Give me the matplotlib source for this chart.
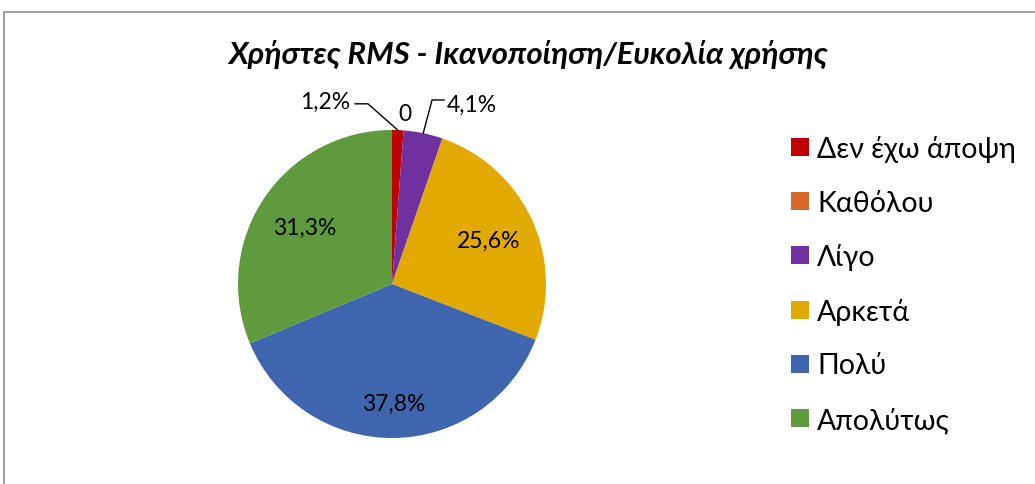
import numpy as np
import matplotlib
matplotlib.use("Agg")
import matplotlib.pyplot as plt
from matplotlib.patches import Rectangle

plt.rcParams["font.family"] = ["Lato", "DejaVu Sans"]

TITLE = "Χρήστες RMS - Ικανοποίηση/Ευκολία χρήσης"
categories = ["Δεν έχω άποψη", "Καθόλου", "Λίγο", "Αρκετά", "Πολύ", "Απολύτως"]
shares = [1.2, 0.0, 4.1, 25.6, 37.8, 31.3]
colors = ["#C00000", "#D9692A", "#7030A0", "#E2AA00", "#3F65AE", "#609A3F"]
# radial distance of the in-slice labels (fraction of radius)
label_r = [0, 0, 0, 0.69, 0.77, 0.68]

W, H = 1035, 484
fig = plt.figure(figsize=(W / 100, H / 100), dpi=100)

# outer chart frame (runs off the right and bottom edges)
fig.patches.append(Rectangle((4 / W, -0.1), 1.2, (H - 12) / H + 0.1, transform=fig.transFigure,
                             fill=False, edgecolor="#8C8C8C", linewidth=1.2))

# pie centre at (392, 284) px, radius 154 px
cx, cy, r = 392, H - 284, 154
lim = 1.25
side = 2 * r * lim
ax = fig.add_axes([(cx - side / 2) / W, (cy - side / 2) / H, side / W, side / H])
wedges, _ = ax.pie(shares, colors=colors, startangle=90, counterclock=False,
                   wedgeprops=dict(linewidth=0))
ax.set_xlim(-lim, lim)
ax.set_ylim(-lim, lim)
ax.set_aspect("equal")
ax.axis("off")


def fmt(v):
    if v == 0:
        return "0"
    return f"{v:.1f}".replace(".", ",") + "%"


def mid_angle(w):
    return np.deg2rad((w.theta1 + w.theta2) / 2)


FS = 16.5
for i, (w, v) in enumerate(zip(wedges, shares)):
    a = mid_angle(w)
    if v >= 10:
        rr = label_r[i]
        ax.text(rr * np.cos(a), rr * np.sin(a), fmt(v), ha="center", va="center_baseline",
                fontsize=FS, color="black")
    elif v == 0:
        ax.text(1.12 * np.cos(a), 1.12 * np.sin(a), fmt(v), ha="center", va="center_baseline",
                fontsize=FS)
    else:
        ex, ey = np.cos(a), np.sin(a)
        if ex < 0.1:
            # label to the upper left
            ax.plot([-0.24, -0.156, ex], [1.17, 1.17, ey], color="black", lw=1)
            ax.text(-0.27, 1.19, fmt(v), ha="right", va="center_baseline", fontsize=FS)
        else:
            ax.plot([0.338, 0.26, ex], [1.195, 1.195, ey], color="black", lw=1)
            ax.text(0.355, 1.175, fmt(v), ha="left", va="center_baseline", fontsize=FS)

fig.text(528 / W, 1 - 52 / H, TITLE, ha="center", va="center_baseline", fontsize=22.5,
         fontweight="bold", fontstyle="italic")

# legend, drawn as boxes plus text in pixel positions
y0, step = 147, 54.2
for i, (lab, c) in enumerate(zip(categories, colors)):
    y = H - (y0 + i * step)
    fig.patches.append(Rectangle((791 / W, (y - 9) / H), 18 / W, 18 / H,
                                 transform=fig.transFigure, facecolor=c, edgecolor="none"))
    fig.text(817 / W, y / H, lab, ha="left", va="center_baseline", fontsize=20.5)

fig.savefig("out.png", dpi=100)
